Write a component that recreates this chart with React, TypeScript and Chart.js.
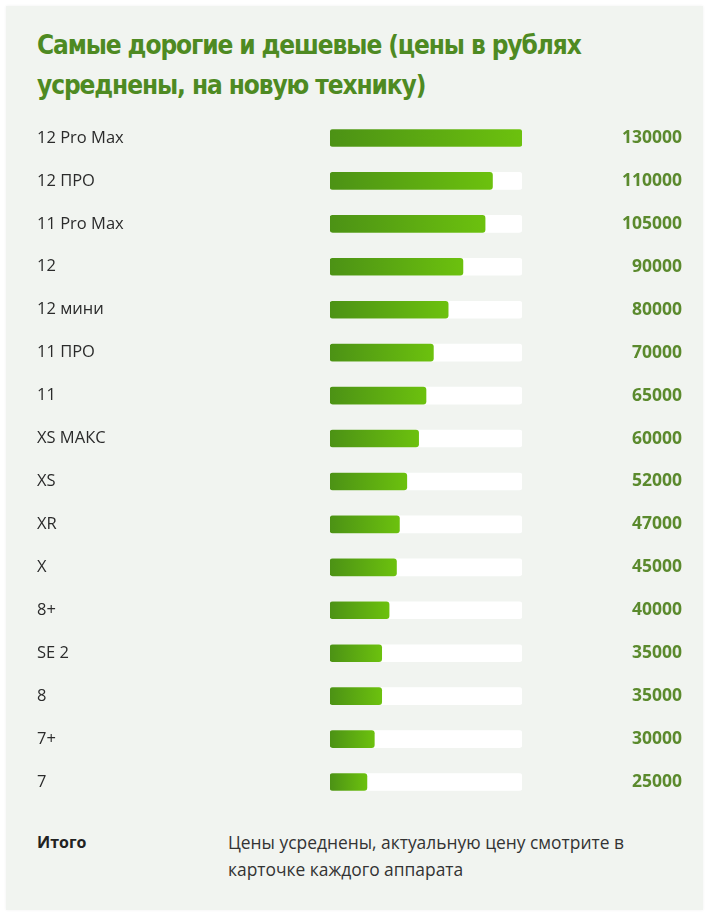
import React, { useEffect, useRef } from "react";
import { Chart, registerables } from "chart.js";

Chart.register(...registerables);

const models = [
  "12 Pro Max", "12 ПРО", "11 Pro Max", "12", "12 мини", "11 ПРО", "11", "XS МАКС",
  "XS", "XR", "X", "8+", "SE 2", "8", "7+", "7",
];
const prices = [
  130000, 110000, 105000, 90000, 80000, 70000, 65000, 60000,
  52000, 47000, 45000, 40000, 35000, 35000, 30000, 25000,
];
const trackMax = 130000;
const titleLines = ["Самые дорогие и дешевые (цены в рублях", "усреднены, на новую технику)"];
const footerLabel = "Итого";
const footerText = "Цены усреднены, актуальную цену смотрите в карточке каждого аппарата";

export default function App() {
  const ref = useRef<HTMLCanvasElement | null>(null);
  useEffect(() => {
    document.body.style.margin = "0";
    const canvas = ref.current;
    if (!canvas) return;
    const chart = new Chart(canvas, {
      type: "bar",
      data: {
        labels: models,
        datasets: [
          {
            data: prices,
            order: 0,
            barThickness: 17,
            borderRadius: 3,
            borderSkipped: false,
            grouped: false,
            backgroundColor: (ctx: any) => {
              const c = ctx.chart;
              if (!c.chartArea || ctx.raw === undefined) return "#5aa815";
              const xs = c.scales.x;
              const x0 = xs.getPixelForValue(0);
              const x1 = xs.getPixelForValue(ctx.raw);
              const g = c.ctx.createLinearGradient(x0, 0, x1, 0);
              g.addColorStop(0, "#4c9215");
              g.addColorStop(1, "#6cc10e");
              return g;
            },
          },
          {
            data: prices.map(() => trackMax),
            order: 1,
            barThickness: 17,
            borderRadius: 3,
            borderSkipped: false,
            grouped: false,
            backgroundColor: "#ffffff",
          },
        ],
      },
      options: {
        indexAxis: "y",
        animation: false,
        responsive: false,
        maintainAspectRatio: false,
        layout: { padding: 0 },
        plugins: { legend: { display: false }, tooltip: { enabled: false }, title: { display: false } },
        scales: {
          x: { display: false, min: 0, max: trackMax },
          y: {
            position: "left",
            grid: { display: false },
            border: { display: false },
            ticks: {
              crossAlign: "far",
              color: "#2b2b2b",
              font: { family: "'Open Sans', 'Noto Sans', sans-serif", size: 16.5 },
              padding: 0,
            },
            afterFit: (s: any) => { s.width = 293; },
          },
          y2: {
            type: "category",
            position: "right",
            labels: prices.map((p) => String(p)),
            grid: { display: false },
            border: { display: false },
            ticks: {
              crossAlign: "far",
              color: "#5b8a2d",
              font: { family: "'Open Sans', 'Noto Sans', sans-serif", size: 17.5, weight: "bold" },
              padding: 0,
            },
            afterFit: (s: any) => { s.width = 160; },
          },
        },
      },
    } as any);
    return () => chart.destroy();
  }, []);

  return (
    <div style={{ position: "relative", width: 712, height: 917, background: "#ffffff", fontFamily: "'Open Sans', sans-serif" }}>
      <div style={{ position: "absolute", left: 6, top: 6, width: 697, height: 904, background: "#f1f4f0", boxShadow: "0 0 3px rgba(0,0,0,0.06)" }} />
      <div style={{ position: "absolute", left: 37, top: 25, fontFamily: "'Liberation Sans Narrow', 'DejaVu Sans Condensed', sans-serif", fontWeight: 700, fontSize: 26, letterSpacing: "-1.1px", lineHeight: "40px", color: "#4e8a22", whiteSpace: "nowrap" }}>
        {titleLines.map((t, i) => <div key={i}>{t}</div>)}
      </div>
      <canvas ref={ref} width={645} height={708} style={{ position: "absolute", left: 37, top: 105.5, width: 645, height: 708 }} />
      <div style={{ position: "absolute", left: 37, top: 829, fontWeight: 700, fontSize: 16, color: "#222", lineHeight: "27px" }}>{footerLabel}</div>
      <div style={{ position: "absolute", left: 228, top: 829, width: 440, fontSize: 17.4, color: "#333", lineHeight: "27px" }}>{footerText}</div>
    </div>
  );
}
